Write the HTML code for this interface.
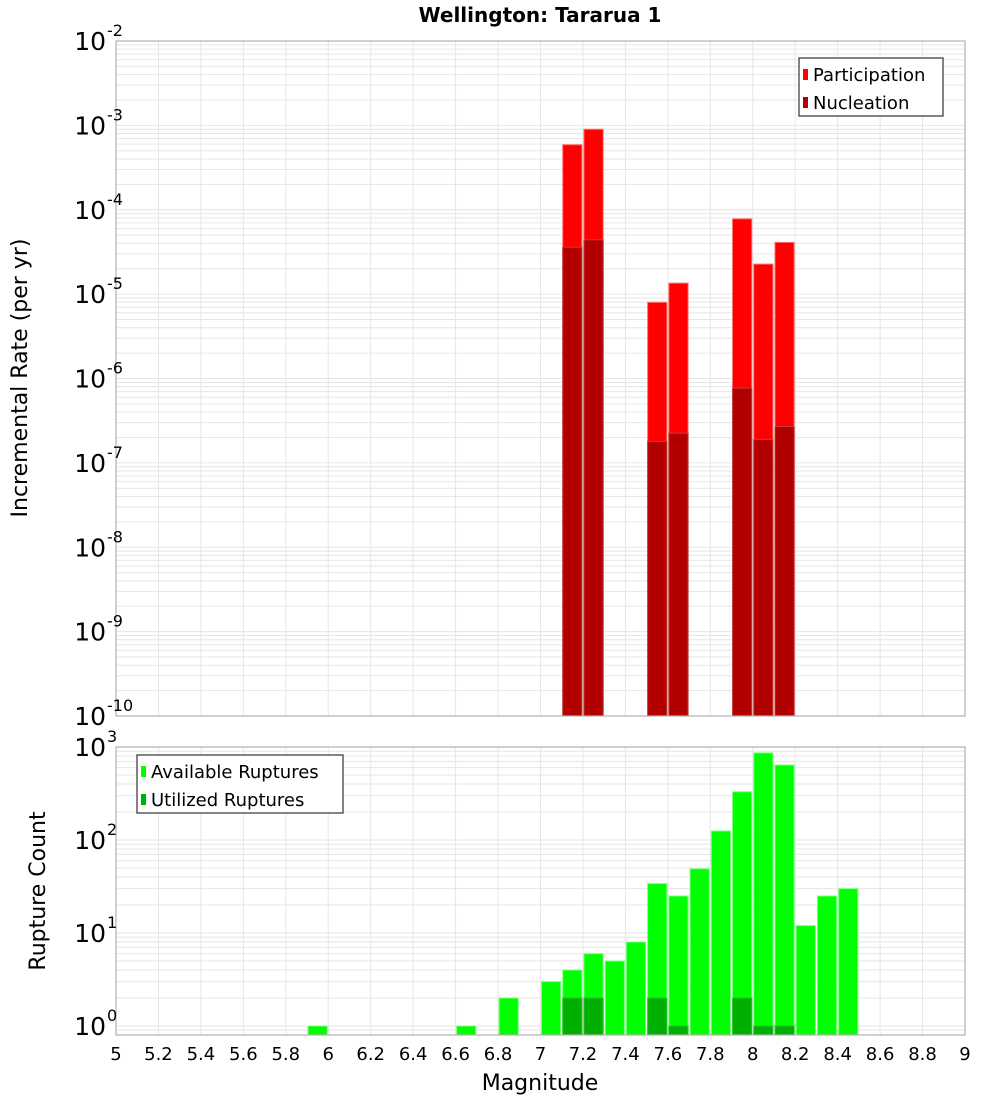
<!DOCTYPE html>
<html><head><meta charset="utf-8"><style>
html,body{margin:0;padding:0;background:#fff;}
svg{display:block;font-family:"DejaVu Sans","Liberation Sans",sans-serif;}
</style></head><body>
<svg id="chart" width="1000" height="1100" viewBox="0 0 1000 1100" xmlns="http://www.w3.org/2000/svg">
<text x="540" y="22" text-anchor="middle" font-size="20" font-weight="bold">Wellington: Tararua 1</text>
<g id="top"></g>
<g id="bot"></g>
</svg>
<script>
const partMags = [7.15, 7.25, 7.55, 7.65, 7.95, 8.05, 8.15];
const partVals = [5.9e-4, 9.0e-4, 8.0e-6, 1.35e-5, 7.8e-5, 2.27e-5, 4.1e-5];
const nuclMags = [7.15, 7.25, 7.55, 7.65, 7.95, 8.05, 8.15];
const nuclVals = [3.6e-5, 4.4e-5, 1.8e-7, 2.25e-7, 7.7e-7, 1.9e-7, 2.7e-7];
const availMags = [5.95, 6.65, 6.85, 7.05, 7.15, 7.25, 7.35, 7.45, 7.55, 7.65, 7.75, 7.85, 7.95, 8.05, 8.15, 8.25, 8.35, 8.45];
const availVals = [1, 1, 2, 3, 4, 6, 5, 8, 34, 25, 49, 125, 330, 865, 640, 12, 25, 30];
const utilMags = [7.15, 7.25, 7.55, 7.65, 7.95, 8.05, 8.15];
const utilVals = [2, 2, 2, 1, 2, 1, 1];
const xTicks = [5, 5.2, 5.4, 5.6, 5.8, 6, 6.2, 6.4, 6.6, 6.8, 7, 7.2, 7.4, 7.6, 7.8, 8, 8.2, 8.4, 8.6, 8.8, 9];
const topExps = [-10, -9, -8, -7, -6, -5, -4, -3, -2];
const botExps = [0, 1, 2, 3];

const NS = "http://www.w3.org/2000/svg";
const L = 116, R = 965;
const xS = m => L + (m - 5) / 4 * (R - L);
function mk(tag, attrs, parent) {
  const e = document.createElementNS(NS, tag);
  for (const k in attrs) e.setAttribute(k, attrs[k]);
  parent.appendChild(e); return e;
}
function panel(g, top, bottom, lmin, lmax, name) {
  const yS = v => bottom - (Math.log10(v) - lmin) / (lmax - lmin) * (bottom - top);
  const grid = mk('g', {}, g);
  
  
  for (let d = Math.floor(lmin); d < lmax; d++) {
    for (let k = 1; k < 10; k++) {
      const v = k * Math.pow(10, d);
      const lv = Math.log10(v);
      if (lv < lmin || lv > lmax) continue;
      const y = yS(v);
      mk('line', {x1: L, x2: R, y1: y, y2: y, stroke: '#e6e6e6', 'stroke-width': 1}, grid);
    }
  }
  xTicks.forEach(t => { const x = xS(t); mk('line', {x1: x, x2: x, y1: top, y2: bottom, stroke: '#e6e6e6', 'stroke-width': 1}, grid); });
  return yS;
}
function bars(g, mags, vals, yS, bottom, fill, stroke, name) {
  mags.forEach((m, i) => {
    const x0 = xS(m - 0.05) + 1, x1 = xS(m + 0.05) - 1;
    const y = yS(vals[i]);
    const r = mk('rect', {x: x0, y: y, width: x1 - x0, height: bottom - y, fill: fill, stroke: stroke, 'stroke-width': 1}, g);
    
    
  });
}
function yLabels(g, exps, yS, name) {
  exps.forEach(e => {
    const y = yS(Math.pow(10, e));
    const t = mk('text', {x: 106, y: y + 9, 'text-anchor': 'end', 'font-size': 25}, g);
    
    
    t.textContent = '10';
    const s = mk('text', {x: 107, y: y - 5, 'font-size': 16}, g);
    
    
    s.textContent = String(e);
  });
}
function legend(g, x, y, w, items, name) {
  const lg = mk('g', {}, g);
  
  
  mk('rect', {x: x, y: y, width: w, height: 58, fill: '#fff', stroke: '#333', 'stroke-width': 1.2}, lg);
  items.forEach((it, i) => {
    const sw = mk('rect', {x: x + 4, y: y + 11 + i * 28, width: 5, height: 11, fill: it[1]}, lg);
    
    
    const t = mk('text', {x: x + 14, y: y + 23 + i * 28, 'font-size': 18}, lg);
    
    
    t.textContent = it[0];
  });
}

// Top panel
const gt = document.getElementById('top');


const T0 = 41, T1 = 716;
const yT = panel(gt, T0, T1, -10, -2, 'rate');
bars(gt, partMags, partVals, yT, T1, '#ff0000', '#ff7070', 'participation');
bars(gt, nuclMags, nuclVals, yT, T1, '#b20000', '#c04040', 'nucleation');
mk('rect', {x: L, y: T0, width: R - L, height: T1 - T0, fill: 'none', stroke: '#b0b0b0', 'stroke-width': 1.2}, gt);
yLabels(gt, topExps, yT, 'rate-y');
legend(gt, 799, 58, 144, [['Participation', '#ff0000'], ['Nucleation', '#b20000']], 'rate-legend');
const yt1 = mk('text', {x: 27, y: 378, 'text-anchor': 'middle', 'font-size': 22, transform: 'rotate(-90 27 378)'}, gt);


yt1.textContent = 'Incremental Rate (per yr)';

// Bottom panel
const gb = document.getElementById('bot');


const B0 = 747, B1 = 1035;
const bMin = -((B1 - 1026) / 93), bMax = 3;
const yB = panel(gb, B0, B1, bMin, bMax, 'count');
bars(gb, availMags, availVals, yB, B1, '#00ff00', '#80ff80', 'available');
bars(gb, utilMags, utilVals, yB, B1, '#00b000', '#30c030', 'utilized');
mk('rect', {x: L, y: B0, width: R - L, height: B1 - B0, fill: 'none', stroke: '#b0b0b0', 'stroke-width': 1.2}, gb);
yLabels(gb, botExps, yB, 'count-y');
legend(gb, 137, 755, 206, [['Available Ruptures', '#00ff00'], ['Utilized Ruptures', '#00b000']], 'count-legend');
const yt2 = mk('text', {x: 45, y: 891, 'text-anchor': 'middle', 'font-size': 22, transform: 'rotate(-90 45 891)'}, gb);


yt2.textContent = 'Rupture Count';

xTicks.forEach(t => {
  const tx = mk('text', {x: xS(t), y: 1060, 'text-anchor': 'middle', 'font-size': 18}, gb);
  
  
  tx.textContent = String(t);
});
const xt = mk('text', {x: 540, y: 1090, 'text-anchor': 'middle', 'font-size': 22}, gb);


xt.textContent = 'Magnitude';
</script>
</body></html>
